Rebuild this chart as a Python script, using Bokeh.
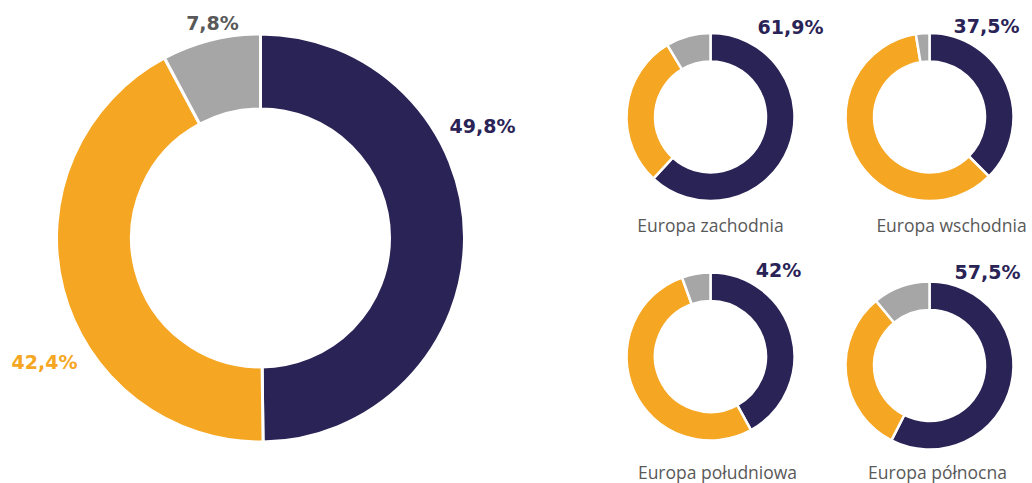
import math
from bokeh.plotting import figure
from bokeh.models import Range1d, ColumnDataSource
from bokeh.core.properties import value
from bokeh.embed import file_html
from bokeh.resources import INLINE

# ---- data ----
series_colors = ["#2A2356", "#F5A623", "#A6A6A6"]
total_values = [49.8, 42.4, 7.8]
regions = ["Europa zachodnia", "Europa wschodnia", "Europa południowa", "Europa północna"]
region_dark = [61.9, 37.5, 42.0, 57.5]
region_orange = [29.5, 59.9, 52.5, 31.5]
region_gray = [8.6, 2.6, 5.5, 11.0]

W, H = 1032, 483

def fmt(v):
    return (f"{v:g}".replace(".", ",")) + "%"

p = figure(width=W, height=H, output_backend="svg", toolbar_location=None,
           x_range=Range1d(0, W), y_range=Range1d(0, H), min_border=0)
p.axis.visible = False
p.grid.visible = False
p.outline_line_color = None
p.background_fill_color = "white"

def donut(cx, cy_px, r_out, r_in, vals, gap):
    cy = H - cy_px
    tot = sum(vals)
    starts, ends = [], []
    c = 0.0
    for v in vals:
        starts.append(math.pi / 2 - 2 * math.pi * c / tot)
        c += v
        ends.append(math.pi / 2 - 2 * math.pi * c / tot)
    src = ColumnDataSource(dict(x=[cx] * len(vals), y=[cy] * len(vals),
                                s=starts, e=ends, c=series_colors[:len(vals)]))
    p.annular_wedge(x="x", y="y", inner_radius=r_in, outer_radius=r_out,
                    start_angle="s", end_angle="e", direction="clock",
                    fill_color="c", line_color="white", line_width=gap, source=src)

# big donut
donut(260, 237.5, 204, 129, total_values, 3)

big_label_pos = [(482, 125), (44, 361), (212, 22)]
big_label_col = ["#2A2356", "#F5A623", "#595959"]
p.text(x=[q[0] for q in big_label_pos], y=[H - q[1] for q in big_label_pos],
       text=[fmt(v) for v in total_values], text_color=big_label_col,
       text_font=value("DejaVu Sans"), text_font_style="bold", text_font_size="19px",
       text_align="center", text_baseline="middle")

# small donuts
centers = [(710, 116.5), (929, 116.5), (710, 356), (929, 365)]
for (cx, cy), d, o, g in zip(centers, region_dark, region_orange, region_gray):
    donut(cx, cy, 84, 55.5, [d, o, g], 2.5)

pct_pos = [(790, 26), (986, 25), (778, 269), (987, 271)]
p.text(x=[q[0] for q in pct_pos], y=[H - q[1] for q in pct_pos],
       text=[fmt(v) for v in region_dark], text_color="#2A2356",
       text_font=value("DejaVu Sans"), text_font_style="bold", text_font_size="19px",
       text_align="center", text_baseline="middle")

name_pos = [(710, 224), (951, 224), (717, 471), (937, 471)]
p.text(x=[q[0] for q in name_pos], y=[H - q[1] for q in name_pos],
       text=regions, text_color="#595959",
       text_font=value("Open Sans"), text_font_size="17.5px",
       text_align="center", text_baseline="middle")

open("out.html", "w").write(file_html(p, INLINE))
